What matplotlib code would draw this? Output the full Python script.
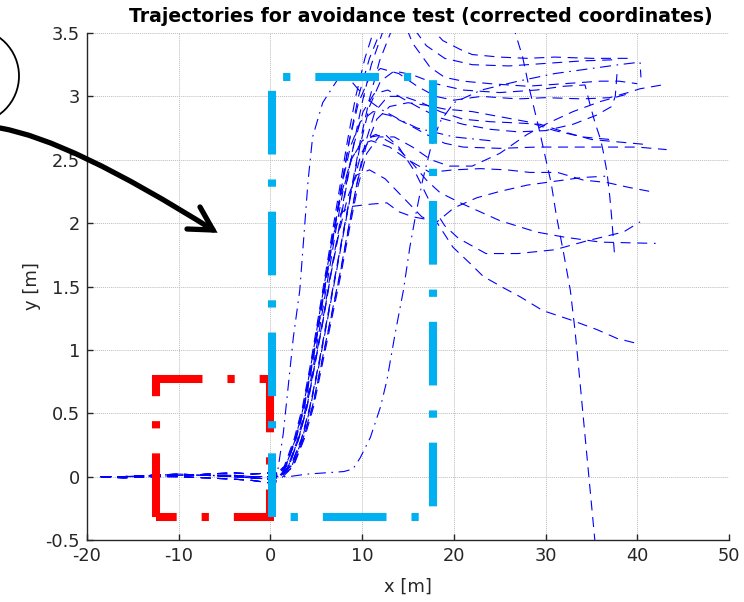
import matplotlib
matplotlib.use("Agg")
import matplotlib.pyplot as plt
from matplotlib.lines import Line2D
from matplotlib.patches import Ellipse, PathPatch
from matplotlib.path import Path

plt.rcParams['font.family'] = ['DejaVu Sans']
plt.rcParams['axes.unicode_minus'] = False

# ---------------- data ----------------
x_ticks = [-20, -10, 0, 10, 20, 30, 40, 50]
x_tick_labels = ['-20', '-10', '0', '10', '20', '30', '40', '50']
y_ticks = [-0.5, 0, 0.5, 1, 1.5, 2, 2.5, 3, 3.5]
y_tick_labels = ['-0.5', '0', '0.5', '1', '1.5', '2', '2.5', '3', '3.5']

pre_x = [-18.5, -16, -13, -10, -7, -4, -2, 0]
pre_1 = [0.0, 0.0, 0.0, 0.01, 0.01, 0.0, -0.01, -0.02]
pre_2 = [0.0, 0.0, 0.01, 0.02, 0.01, 0.01, 0.0, 0.0]
pre_3 = [0.0, -0.01, 0.0, 0.0, -0.01, -0.02, -0.03, -0.05]
pre_4 = [0.0, 0.0, 0.01, 0.0, 0.02, 0.03, 0.02, 0.03]

traj_t1 = [(0.3,0.0),(1.5,0.08),(2.6,0.3),(3.5,0.55),(4.4,0.9),(5.2,1.25),(6.0,1.6),(6.8,1.95),(7.6,2.3),(8.4,2.65),(9.3,3.0),(10.3,3.3),(11.4,3.55),(13,3.75),(15,3.75),(17,3.58),(18.8,3.44),(20.7,3.37),(22,3.33),(25,3.31),(28,3.30),(31,3.31),(35,3.30),(39.5,3.30)]
traj_s1 = [(0.4,0.0),(1.6,0.07),(2.7,0.28),(3.6,0.52),(4.5,0.88),(5.3,1.22),(6.1,1.58),(6.9,1.93),(7.7,2.28),(8.6,2.65),(9.6,3.0),(10.8,3.3),(12.2,3.55),(14,3.8),(17,3.95),(20,4.0),(23,3.85),(25.5,3.65),(26.7,3.5),(27.5,3.31),(28.2,3.07),(29.3,2.74),(30.1,2.48),(30.6,2.32),(31.2,2.05),(31.9,1.79),(32.7,1.47),(33.2,1.16),(33.5,0.94),(35.5,-0.6)]
traj_t2 = [(0.6,-0.03),(1.9,0.06),(3.0,0.28),(3.9,0.53),(4.8,0.88),(5.7,1.23),(6.5,1.58),(7.4,1.93),(8.2,2.28),(9.1,2.63),(10.0,2.95),(11.0,3.25),(12.2,3.5),(13.5,3.62),(15.5,3.55),(17,3.4),(19,3.3),(22,3.25),(26,3.24),(30,3.26),(34,3.28),(38,3.29)]
traj_t11 = [(0.8,0.02),(2.2,0.08),(3.4,0.3),(4.3,0.55),(5.3,0.9),(6.2,1.25),(7.1,1.6),(8.0,1.95),(8.9,2.3),(9.8,2.65),(10.8,2.98),(11.9,3.28),(13.2,3.52),(14.5,3.6),(15.5,3.42),(17.4,3.23),(19,3.15),(21,3.12),(24,3.1),(28,3.08),(32,3.1),(36,3.12),(38,3.12),(40,3.1)]
traj_t3 = [(0.5,0.0),(1.7,0.08),(2.8,0.3),(3.7,0.55),(4.6,0.9),(5.4,1.25),(6.2,1.6),(7.0,1.95),(7.8,2.3),(8.6,2.65),(9.6,2.95),(10.8,3.15),(12,3.22),(14,3.18),(16,3.08),(18,3.0),(20,2.97),(23,3.0),(27,2.98),(30,2.99),(34,2.98),(37,2.99),(39,3.03),(40.3,3.06),(42.7,3.09)]
traj_t7 = [(0.6,0.0),(2.0,0.08),(3.1,0.3),(4.0,0.55),(4.9,0.9),(5.8,1.25),(6.6,1.6),(7.5,1.95),(8.3,2.3),(9.1,2.62),(10.1,2.88),(11.3,3.02),(12.8,3.05),(14.5,2.98),(16.5,2.9),(18.5,2.83),(21,2.78),(24,2.74),(27,2.72),(30,2.73),(33,2.78),(35.5,2.85),(37.2,2.92),(37.6,3.0),(37.8,3.19)]
traj_s2 = [(0.8,-0.04),(2.2,0.06),(3.4,0.28),(4.3,0.53),(5.3,0.88),(6.2,1.23),(7.1,1.58),(8.0,1.93),(8.9,2.28),(9.8,2.62),(10.8,2.92),(12,3.12),(13.5,3.2),(15.5,3.17),(18,3.1),(21,3.05),(25,3.03),(29,3.05),(32,3.08),(34.3,3.09),(34.9,2.92),(35.4,2.79),(36,2.66),(36.3,2.56),(36.7,2.40),(37.0,2.21),(37.2,2.05),(37.5,1.77)]
traj_t4 = [(0.5,0.02),(1.7,0.09),(2.8,0.31),(3.7,0.56),(4.6,0.91),(5.4,1.26),(6.2,1.61),(7.0,1.96),(7.8,2.3),(8.7,2.6),(9.8,2.8),(11.2,2.88),(13,2.85),(15,2.78),(17,2.7),(19,2.63),(21,2.6),(25,2.59),(29,2.6),(33,2.6),(37,2.6),(40,2.6),(43.2,2.58)]
traj_t8 = [(0.9,-0.01),(2.4,0.07),(3.6,0.3),(4.6,0.55),(5.6,0.9),(6.6,1.25),(7.6,1.6),(8.5,1.95),(9.4,2.3),(10.3,2.62),(11.4,2.88),(12.8,3.0),(14.5,3.0),(16.5,2.95),(18.5,2.88),(21,2.82),(24,2.8),(27,2.79),(29.4,2.78),(32,2.72),(35,2.66),(38,2.64),(41,2.62)]
traj_t10 = [(1.0,0.0),(2.5,0.08),(3.7,0.3),(4.7,0.55),(5.7,0.9),(6.7,1.25),(7.7,1.6),(8.6,1.95),(9.5,2.28),(10.5,2.55),(11.8,2.68),(13.5,2.68),(15.5,2.6),(17.5,2.5),(19.5,2.45),(22,2.45),(25,2.55),(28,2.7),(30,2.78),(33,2.88),(36,2.96),(39,3.02)]
traj_t5 = [(0.5,-0.04),(1.8,0.06),(2.9,0.28),(3.8,0.53),(4.7,0.88),(5.5,1.23),(6.3,1.58),(7.1,1.93),(7.9,2.25),(8.8,2.5),(9.8,2.62),(11,2.65),(13,2.6),(15,2.5),(17.4,2.40),(19.9,2.42),(22.9,2.43),(25.8,2.42),(28.3,2.40),(31.3,2.40),(34.1,2.34),(36.7,2.32),(39.2,2.28),(41.4,2.25)]
traj_t6 = [(0.7,0.03),(2.0,0.09),(3.1,0.31),(4.0,0.56),(4.9,0.91),(5.8,1.26),(6.6,1.6),(7.5,1.93),(8.4,2.2),(9.4,2.38),(10.8,2.42),(12.5,2.35),(14.5,2.2),(16.5,2.05),(18,2.0),(20,2.12),(22.5,2.2),(25,2.25),(28,2.3),(31,2.33),(34,2.36),(36.5,2.37)]
traj_f = [(0.8,0.0),(2.2,0.08),(3.4,0.3),(4.3,0.55),(5.3,0.9),(6.2,1.25),(7.1,1.6),(8.0,1.95),(8.9,2.28),(9.9,2.55),(11,2.68),(12.5,2.7),(14,2.6),(15.8,2.4),(17.5,2.15),(19,1.98),(20.5,1.88),(23.5,1.76),(27,1.76),(31,1.79),(34.5,1.86),(38.5,1.93),(40.3,2.01)]
traj_g = [(0.4,0.0),(1.6,0.08),(2.7,0.3),(3.6,0.55),(4.5,0.9),(5.3,1.25),(6.1,1.6),(6.9,1.95),(7.8,2.25),(8.8,2.5),(10,2.65),(11.5,2.7),(13.5,2.62),(15.5,2.47),(17,2.34),(18.5,2.24),(21,2.15),(25,2.02),(29,1.93),(32,1.89),(36,1.85),(42,1.84)]
traj_h = [(0.3,-0.05),(1.5,0.05),(2.6,0.27),(3.5,0.52),(4.4,0.87),(5.2,1.22),(6.0,1.57),(6.8,1.9),(7.7,2.08),(8.7,2.13),(9.8,2.14),(11,2.15),(12.7,2.16),(14,2.09),(15.5,2.05),(17,2.03),(18.2,2.0),(19.9,1.81),(21.8,1.68),(23.2,1.58),(25.4,1.49),(27.2,1.42),(29.7,1.31),(32.6,1.24),(35.6,1.16),(37.8,1.09),(40.0,1.05)]
traj_t9 = [(0.9,0.02),(2.4,0.09),(3.6,0.31),(4.6,0.56),(5.6,0.91),(6.6,1.26),(7.6,1.61),(8.5,1.96),(9.4,2.3),(10.4,2.6),(11.6,2.82),(13,2.92),(15,2.95),(17,2.93),(19,2.9),(22,2.88),(25,2.84),(28,2.8),(31,2.73),(34,2.68),(37,2.66)]
traj_early = [(0.3,0.0),(0.7,0.0),(1.4,0.34),(2.5,1.1),(3.2,1.47),(4.1,2.33),(4.6,2.68),(5.7,2.95),(7.3,3.13),(8.7,3.13),(9.4,3.07),(10.5,2.98),(12,2.9),(14,2.82),(16,2.75),(20,2.68),(24,2.65)]
traj_late = [(0.5,0.0),(2,0.0),(4,0.02),(6,0.03),(8,0.04),(9,0.06),(9.8,0.15),(10.9,0.31),(12,0.55),(12.7,0.76),(13.6,1.13),(14.5,1.47),(15.2,1.81),(15.8,2.05),(16.6,2.34),(17.5,2.6),(18.5,2.8),(20,2.95),(23,3.05),(27,3.12),(31,3.18),(35,3.22),(38,3.25),(40.3,3.27),(40.4,3.15)]

dashed_trajs = [(pre_1, traj_t1), (pre_2, traj_s1), (pre_3, traj_t2), (pre_4, traj_t11),
                (pre_1, traj_t3), (pre_2, traj_t7), (pre_3, traj_s2), (pre_4, traj_t4),
                (pre_1, traj_t8), (pre_2, traj_t10), (pre_3, traj_t5), (pre_4, traj_t6),
                (pre_1, traj_f), (pre_2, traj_g), (pre_3, traj_h), (pre_4, traj_t9)]
dashdot_trajs = [(pre_2, traj_early), (pre_1, traj_late)]

red_box_x = [-12.5, -12.5, 0.0, 0.0, -12.5]
red_box_y = [-0.32, 0.77, 0.77, -0.32, -0.32]
cyan_box_x = [0.2, 0.2, 17.7, 17.7, 0.2]
cyan_box_y = [-0.32, 3.15, 3.15, -0.32, -0.32]

# ---------------- figure ----------------
W, H = 744, 602
fig = plt.figure(figsize=(W/100, H/100), dpi=100)
ax = fig.add_axes([87/W, 1-540/H, (729-87)/W, (540-33)/H])
ax.set_xlim(-20, 50)
ax.set_ylim(-0.5, 3.5)

blue = '#0000FF'
for pre_y, tr in dashed_trajs:
    xs = pre_x + [p[0] for p in tr]
    ys = pre_y + [p[1] for p in tr]
    ax.plot(xs, ys, color=blue, lw=0.8, linestyle=(0, (9, 6)), zorder=3)
for pre_y, tr in dashdot_trajs:
    xs = pre_x + [p[0] for p in tr]
    ys = pre_y + [p[1] for p in tr]
    ax.plot(xs, ys, color=blue, lw=0.8, linestyle=(0, (10, 5, 1.5, 5)), zorder=3)

box_lw = 5.8
ax.plot(red_box_x, red_box_y, color='#FF0000', lw=box_lw, linestyle=(0, (7.9, 3.1, 0.9, 3.1)),
        dash_capstyle='butt', dash_joinstyle='miter', zorder=4, clip_on=False)
ax.plot(cyan_box_x, cyan_box_y, color='#00B0F0', lw=box_lw, linestyle=(0, (7.9, 3.1, 0.9, 3.1)),
        dash_capstyle='butt', dash_joinstyle='miter', zorder=5, clip_on=False)

ax.set_xticks(x_ticks)
ax.set_xticklabels(x_tick_labels)
ax.set_yticks(y_ticks)
ax.set_yticklabels(y_tick_labels)
ax.grid(True, color='#BDBDBD', linestyle=(0, (1, 1)), linewidth=0.7)
ax.set_axisbelow(True)
for s in ['top', 'right']:
    ax.spines[s].set_visible(False)
for s in ['left', 'bottom']:
    ax.spines[s].set_color('#262626')
    ax.spines[s].set_linewidth(1.0)
ax.tick_params(direction='in', length=4, width=1, colors='#262626', labelsize=12.8, pad=5)
ax.set_xlabel('x [m]', fontsize=13, color='#262626', labelpad=9)
ax.set_ylabel('y [m]', fontsize=13, color='#262626', labelpad=3)

fig.text(421/W, 1-16/H, 'Trajectories for avoidance test (corrected coordinates)',
         ha='center', va='center', fontsize=13.6, fontweight='bold', color='black')

# circle annotation (partly outside the figure)
circ = Ellipse((-28.5/W, 1-76/H), 95/W, 95/H, transform=fig.transFigure,
               fill=False, edgecolor='black', lw=1.3, clip_on=False)
fig.patches.append(circ)

# curved arrow
def fp(x, y):
    return (x/W, 1-y/H)
verts = [fp(0, 128), fp(70, 140), fp(213, 230)]
path = Path(verts, [Path.MOVETO, Path.CURVE3, Path.CURVE3])
fig.patches.append(PathPatch(path, transform=fig.transFigure, fill=False,
                             edgecolor='black', lw=3.8, capstyle='round'))
head_x = [200/W, 213/W, 187/W]
head_y = [1-207/H, 1-230/H, 1-229/H]
fig.lines.append(Line2D(head_x, head_y, transform=fig.transFigure, color='black',
                        lw=3.8, solid_capstyle='round', solid_joinstyle='miter'))

fig.savefig('out.png', dpi=100)
